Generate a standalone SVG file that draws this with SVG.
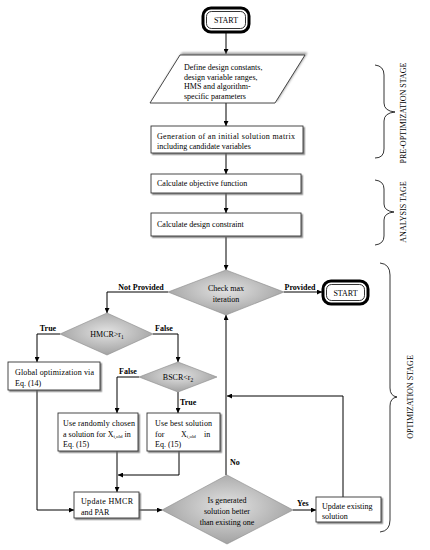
<svg xmlns="http://www.w3.org/2000/svg" width="430" height="550" viewBox="0 0 430 550">
<defs>
<marker id="ar" viewBox="0 0 6 6" refX="6" refY="3" markerWidth="5" markerHeight="5" orient="auto" markerUnits="userSpaceOnUse">
<path d="M0,0 L6,3 L0,6 z" fill="#000"/>
</marker>
<filter id="sh" x="-10%" y="-20%" width="130%" height="150%">
<feDropShadow dx="1.5" dy="1.5" stdDeviation="0.7" flood-color="#666" flood-opacity="0.8"/>
</filter>
<filter id="shp" x="-10%" y="-20%" width="130%" height="150%">
<feDropShadow dx="2" dy="-2" stdDeviation="0.8" flood-color="#777" flood-opacity="0.7"/>
</filter>
<radialGradient id="dg" cx="50%" cy="45%" r="60%">
<stop offset="0" stop-color="#e2e2e2"/>
<stop offset="1" stop-color="#9c9c9c"/>
</radialGradient>
</defs>
<style>
text{font-family:"Liberation Serif","Times New Roman",serif;font-size:8px;fill:#000}
.b{font-weight:bold}
.m{text-anchor:middle}
.box{fill:#fff;stroke:#333;stroke-width:0.9;filter:url(#sh)}
.dia{fill:url(#dg);stroke:#8a8a8a;stroke-width:0.6}
.cn{fill:none;stroke:#000;stroke-width:1}
.br{fill:none;stroke:#000;stroke-width:0.8}
.so{fill:#fff;stroke:#000;stroke-width:3}
.si{fill:none;stroke:#000;stroke-width:0.8}
</style>
<g id="connectors">
<path class="cn" d="M226,33 V54" marker-end="url(#ar)"/>
<path class="cn" d="M226,103 V126" marker-end="url(#ar)"/>
<path class="cn" d="M226,153 V174" marker-end="url(#ar)"/>
<path class="cn" d="M226,193 V213" marker-end="url(#ar)"/>
<path class="cn" d="M226,237 V270" marker-end="url(#ar)"/>
<path class="cn" d="M168,292 H107 V313" marker-end="url(#ar)"/>
<path class="cn" d="M284,292 H322" marker-end="url(#ar)"/>
<path class="cn" d="M60,334 H37 V362" marker-end="url(#ar)"/>
<path class="cn" d="M153,334 H178 V362" marker-end="url(#ar)"/>
<path class="cn" d="M139,377 H117 V413" marker-end="url(#ar)"/>
<path class="cn" d="M178,392 V413" marker-end="url(#ar)"/>
<path class="cn" d="M117,451 V492" marker-end="url(#ar)"/>
<path class="cn" d="M179,451 V475 H118" marker-end="url(#ar)"/>
<path class="cn" d="M37,390 V510 H74" marker-end="url(#ar)"/>
<path class="cn" d="M139,510 H162" marker-end="url(#ar)"/>
<path class="cn" d="M226,475 V315" marker-end="url(#ar)"/>
<path class="cn" d="M293,510 H316" marker-end="url(#ar)"/>
<path class="cn" d="M343,497 V396 H227" marker-end="url(#ar)"/>
<text class="b m" x="141" y="290">Not Provided</text>
<text class="b m" x="300" y="290">Provided</text>
<text class="b m" x="48" y="331">True</text>
<text class="b m" x="164" y="331">False</text>
<text class="b m" x="128" y="374">False</text>
<text class="b" x="180" y="405">True</text>
<text class="b" x="230" y="465">No</text>
<text class="b" x="297" y="506">Yes</text>
</g>
<g id="start1">
<rect class="so" x="203" y="8" width="46" height="24" rx="8"/>
<rect class="si" x="206.5" y="11.5" width="39" height="17" rx="5"/>
<text class="m" x="226" y="23">START</text>
</g>
<g id="define">
<polygon points="180,55 305,55 275,103 150,103" fill="#fff" stroke="#333" stroke-width="0.9" filter="url(#shp)"/>
<text x="184" y="70">Define design constants,</text>
<text x="184" y="79.5">design variable ranges,</text>
<text x="184" y="89">HMS and algorithm-</text>
<text x="184" y="98.5">specific parameters</text>
</g>
<g id="generation">
<rect class="box" x="151" y="126" width="152" height="27"/>
<text x="157" y="139" textLength="138" lengthAdjust="spacing">Generation of an initial solution matrix</text>
<text x="157" y="149">including candidate variables</text>
</g>
<g id="objective">
<rect class="box" x="151" y="174" width="150" height="19"/>
<text x="157" y="186">Calculate objective function</text>
</g>
<g id="constraint">
<rect class="box" x="151" y="213" width="150" height="23"/>
<text x="157" y="227">Calculate design constraint</text>
</g>
<g id="checkmax">
<polygon class="dia" points="226,270 284,292 226,315 168,292"/>
<text class="m" x="226" y="291">Check max</text>
<text class="m" x="226" y="302">iteration</text>
</g>
<g id="start2">
<rect class="so" x="323" y="281" width="45" height="23" rx="8"/>
<rect class="si" x="326.5" y="284.5" width="38" height="16" rx="5"/>
<text class="m" x="345.5" y="295.5">START</text>
</g>
<g id="hmcr">
<polygon class="dia" points="107,313 153,334 107,355 60,334"/>
<text class="m" x="107" y="337">HMCR&gt;r<tspan font-size="5.5" dy="1.5">1</tspan></text>
</g>
<g id="bscr">
<polygon class="dia" points="178,362 217,377 178,392 139,377"/>
<text class="m" x="178" y="380">BSCR&lt;r<tspan font-size="5.5" dy="1.5">2</tspan></text>
</g>
<g id="global">
<rect class="box" x="8" y="362" width="92" height="28"/>
<text x="15" y="375" textLength="79" lengthAdjust="spacing">Global optimization via</text>
<text x="15" y="386">Eq. (14)</text>
</g>
<g id="random">
<rect class="box" x="58" y="413" width="80" height="38"/>
<text x="63" y="426" textLength="72" lengthAdjust="spacing">Use randomly chosen</text>
<text x="63" y="436.5">a solution for X<tspan font-size="5" dy="1">i,old</tspan><tspan dy="-1"> in</tspan></text>
<text x="63" y="447">Eq. (15)</text>
</g>
<g id="best">
<rect class="box" x="147" y="413" width="73" height="38"/>
<text x="155" y="426" textLength="57" lengthAdjust="spacing">Use best solution</text>
<text x="155" y="436.5">for</text>
<text x="181" y="436.5">X<tspan font-size="5" dy="1">i,old</tspan></text>
<text x="204" y="436.5">in</text>
<text x="155" y="447">Eq. (15)</text>
</g>
<g id="updatehmcr">
<rect class="box" x="74" y="492" width="65" height="26"/>
<text x="81" y="504" textLength="52" lengthAdjust="spacing">Update HMCR</text>
<text x="81" y="515">and PAR</text>
</g>
<g id="isbetter">
<polygon class="dia" points="227,475 293,510 227,544 162,510"/>
<text class="m" x="227" y="503">Is generated</text>
<text class="m" x="227" y="514">solution better</text>
<text class="m" x="227" y="525">than existing one</text>
</g>
<g id="updateexisting">
<rect class="box" x="316" y="497" width="65" height="25"/>
<text x="322" y="508.5">Update existing</text>
<text x="322" y="519">solution</text>
</g>
<g id="stages">
<path class="br" d="M375,65 Q384,66 384,75 V103 Q384,111 395,112 Q384,113 384,121 V149 Q384,158 375,158"/>
<text class="m" x="406" y="113" transform="rotate(-90 406 113)">PRE-OPTIMIZATION STAGE</text>
<path class="br" d="M375,180 Q384,181 384,189 V204 Q384,211 394,212 Q384,213 384,220 V236 Q384,244 375,245"/>
<text class="m" x="406" y="212" transform="rotate(-90 406 212)">ANALYSIS TAGE</text>
<path class="br" d="M380,263 Q390,264 390,275 V388 Q390,396 397,397 Q390,398 390,406 V520 Q390,531 380,532"/>
<text class="m" x="413" y="397" transform="rotate(-90 413 397)">OPTIMIZATION STAGE</text>
</g>
</svg>
